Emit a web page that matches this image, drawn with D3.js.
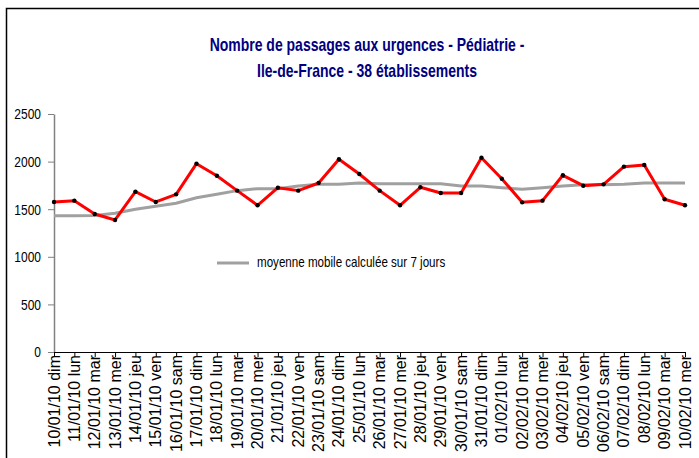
<!DOCTYPE html>
<html lang="fr">
<head>
    <meta charset="utf-8"/>
    <title>Passages aux urgences - Pédiatrie</title>
    <script src="https://d3js.org/d3.v7.min.js"></script>
    <style>
        body { margin: 0; background: #fff; }
        svg { display: block; font-family: "Liberation Sans", Arial, sans-serif; }
    </style>
</head>
<body>
<svg width="699" height="458"></svg>

<script type="text/javascript">

    // données
    const jours = ["10/01/10 dim", "11/01/10 lun", "12/01/10 mar", "13/01/10 mer", "14/01/10 jeu",
        "15/01/10 ven", "16/01/10 sam", "17/01/10 dim", "18/01/10 lun", "19/01/10 mar",
        "20/01/10 mer", "21/01/10 jeu", "22/01/10 ven", "23/01/10 sam", "24/01/10 dim",
        "25/01/10 lun", "26/01/10 mar", "27/01/10 mer", "28/01/10 jeu", "29/01/10 ven",
        "30/01/10 sam", "31/01/10 dim", "01/02/10 lun", "02/02/10 mar", "03/02/10 mer",
        "04/02/10 jeu", "05/02/10 ven", "06/02/10 sam", "07/02/10 dim", "08/02/10 lun",
        "09/02/10 mar", "10/02/10 mer"];

    const passages = [1576, 1590, 1450, 1387, 1684, 1576, 1656, 1978, 1852, 1695,
        1541, 1726, 1695, 1775, 2024, 1870, 1695, 1541, 1730, 1670,
        1670, 2041, 1820, 1572, 1590, 1856, 1747, 1761, 1947, 1964,
        1604, 1541];

    const moyenneMobile = [1432, 1432, 1435, 1457, 1499, 1530, 1562, 1621, 1656, 1695,
        1716, 1716, 1744, 1761, 1761, 1775, 1768, 1768, 1768, 1768,
        1744, 1744, 1726, 1709, 1726, 1744, 1758, 1758, 1761, 1775,
        1775, 1775];

    const yTicks = [0, 500, 1000, 1500, 2000, 2500];

    const titre = ["Nombre de passages aux urgences - Pédiatrie -", "Ile-de-France - 38 établissements"];
    const legende = "moyenne mobile calculée sur 7 jours";

    const svg = d3.select("svg");

    // cadre du graphique (coupé à droite et en bas)
    svg.append("rect")
        .attr("x", 6.5).attr("y", 8.5)
        .attr("width", 800).attr("height", 600)
        .attr("fill", "none")
        .attr("stroke", "#000")
        .attr("stroke-width", 1.5);

    // échelles
    const x = d3.scalePoint().domain(jours).range([54, 685]);
    const y = d3.scaleLinear().domain([0, 2500]).range([352, 114]);

    // titre
    svg.selectAll(".titre")
        .data(titre)
        .enter().append("text")
        .attr("class", "titre")
        .attr("transform", (d, i) => "translate(367," + (51 + i * 26) + ") scale(1,1.25)")
        .attr("text-anchor", "middle")
        .attr("font-size", 14)
        .attr("font-weight", "bold")
        .attr("fill", "#000080")
        .text(d => d);

    // axe Y
    const yAxis = svg.append("g")
        .attr("transform", "translate(54,0)")
        .call(d3.axisLeft(y).tickValues(yTicks).tickFormat(d3.format("d"))
            .tickSize(6).tickSizeOuter(0).tickPadding(7));
    yAxis.select(".domain").attr("stroke", "#808080").attr("stroke-width", 1.5);
    yAxis.selectAll(".tick line").attr("stroke", "#808080");
    yAxis.selectAll(".tick text")
        .attr("font-size", 12)
        .attr("fill", "#000")
        .attr("transform", "scale(1,1.25)");

    // axe X
    const xAxis = svg.append("g")
        .attr("transform", "translate(0,352)")
        .call(d3.axisBottom(x).tickSize(5).tickSizeOuter(0));
    xAxis.select(".domain").attr("stroke", "#000").attr("stroke-width", 1.2);
    xAxis.selectAll(".tick line").attr("stroke", "#000");
    xAxis.selectAll(".tick text")
        .attr("font-size", 16)
        .attr("fill", "#000")
        .attr("text-anchor", "end")
        .attr("transform", "rotate(-90)")
        .attr("x", -3)
        .attr("y", 5)
        .attr("dy", 0);

    // moyenne mobile
    const ligne = d3.line()
        .x((d, i) => x(jours[i]))
        .y(d => y(d));

    svg.append("path")
        .attr("d", ligne(moyenneMobile))
        .attr("fill", "none")
        .attr("stroke", "#a0a0a0")
        .attr("stroke-width", 3);

    // nombre de passages
    svg.append("path")
        .attr("d", ligne(passages))
        .attr("fill", "none")
        .attr("stroke", "#ff0000")
        .attr("stroke-width", 3)
        .attr("stroke-linejoin", "round");

    svg.selectAll(".point")
        .data(passages)
        .enter().append("circle")
        .attr("class", "point")
        .attr("cx", (d, i) => x(jours[i]))
        .attr("cy", d => y(d))
        .attr("r", 2.2)
        .attr("fill", "#000");

    // légende
    svg.append("line")
        .attr("x1", 217).attr("x2", 249)
        .attr("y1", 263).attr("y2", 263)
        .attr("stroke", "#a0a0a0")
        .attr("stroke-width", 3);
    svg.append("text")
        .attr("transform", "translate(257,267) scale(1,1.25)")
        .attr("font-size", 11.6)
        .attr("fill", "#000")
        .text(legende);

</script>
</body>
</html>
